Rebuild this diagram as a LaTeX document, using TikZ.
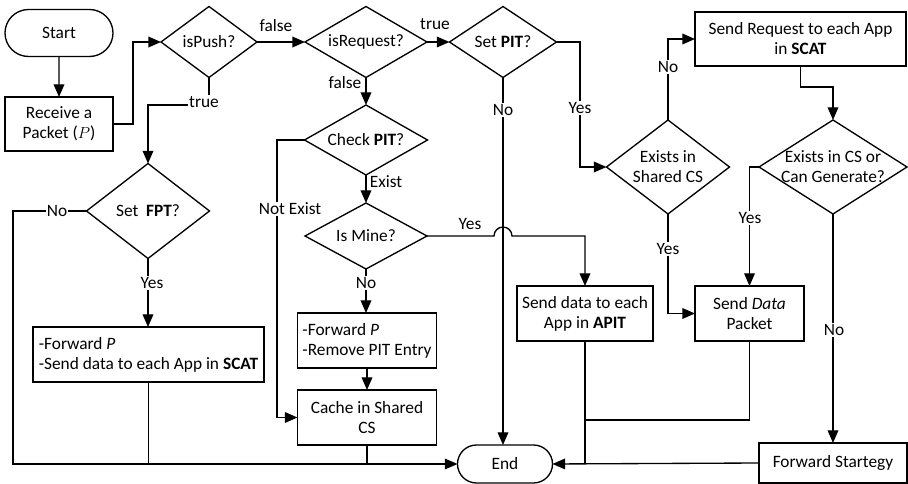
\documentclass[tikz,border=0pt]{standalone}
\usepackage{fontspec}
\setmainfont{Carlito}
\usetikzlibrary{shapes.geometric,shapes.misc,arrows.meta}

\begin{document}
\begin{tikzpicture}[x=0.75pt,y=-0.75pt,
  font=\fontsize{13}{15}\selectfont,
  every node/.style={inner sep=0pt,outer sep=0pt},
  line/.style={line width=1pt},
  flow/.style={line, -{Triangle[length=9.5pt,width=8pt]}},
  term/.style={draw,line width=1pt,rounded rectangle,align=center},
  proc/.style={draw,line width=1pt,rectangle,align=center},
  dec/.style={draw,line width=1pt,diamond},
  tag/.style={fill=white,inner sep=1pt},
  dtext/.style={align=center}
]
\useasboundingbox (0,0) rectangle (908,484);

% ---- nodes ----
\node[term,minimum width=108*0.75pt,minimum height=47*0.75pt] (start) at (59,33) {Start};
\node[proc,minimum width=108*0.75pt,minimum height=54*0.75pt] (recv) at (59,124) {Receive a\\Packet ($P$)};

\node[dec,minimum width=96*0.75pt,minimum height=71*0.75pt,label={[dtext]center:isPush?}] (push) at (209,42) {};
\node[dec,minimum width=122*0.75pt,minimum height=71*0.75pt,label={[dtext]center:isRequest?}] (req) at (366,42) {};
\node[dec,minimum width=107*0.75pt,minimum height=71*0.75pt,label={[dtext]center:Set \textbf{PIT}?}] (setpit) at (503,42) {};

\node[dec,minimum width=123*0.75pt,minimum height=95*0.75pt,label={[dtext]center:Set~~\textbf{FPT}?}] (fpt) at (148,211) {};
\node[proc,align=left,minimum width=231*0.75pt,minimum height=55*0.75pt] (scat) at (148.5,354.5) {-Forward \textit{P}\\-Send data to each App in \textbf{SCAT}};

\node[dec,minimum width=123*0.75pt,minimum height=70*0.75pt,label={[dtext]center:Check \textbf{PIT}?}] (chk) at (366,140) {};
\node[dec,minimum width=122*0.75pt,minimum height=66*0.75pt,label={[dtext]center:Is Mine?}] (mine) at (366,236) {};
\node[proc,align=left,minimum width=139*0.75pt,minimum height=55*0.75pt] (fwd) at (367,340.5) {-Forward \textit{P}\\-Remove PIT Entry};
\node[proc,minimum width=139*0.75pt,minimum height=55*0.75pt] (cache) at (367,417.5) {Cache in Shared\\CS};

\node[term,minimum width=95*0.75pt,minimum height=38*0.75pt] (end) at (505,464) {End};

\node[proc,minimum width=136*0.75pt,minimum height=55*0.75pt] (apit) at (585,313.5) {Send data to each\\App in \textbf{APIT}};

\node[dec,minimum width=123*0.75pt,minimum height=94*0.75pt,label={[dtext]center:Exists in\\Shared CS}] (shcs) at (668,167) {};
\node[proc,minimum width=211*0.75pt,minimum height=54*0.75pt] (sreq) at (800.5,39) {Send Request to each App\\in \textbf{SCAT}};
\node[dec,minimum width=148*0.75pt,minimum height=94*0.75pt,label={[dtext]center:Exists in CS or\\Can Generate?}] (cscan) at (833,167) {};
\node[proc,minimum width=109*0.75pt,minimum height=55*0.75pt] (dpk) at (749.5,313.5) {Send \textit{Data}\\Packet};
\node[proc,minimum width=148*0.75pt,minimum height=40*0.75pt] (fs) at (833,463) {Forward Startegy};

% ---- connectors ----
\draw[flow] (start) -- (recv);
\draw[flow] (recv.east) -- (133,124) |- (push.west);
\draw[flow] (push.east) -- (req.west);
\draw[flow] (req.east) -- (setpit.west);
\draw[flow] (push.south) -- (209,105) -| (fpt.north);
\draw[flow] (req.south) -- (chk.north);
\draw[flow] (chk.south) -- (mine.north);
\draw[flow] (chk.west) -- (277,140) |- (cache.west);
\draw[flow] (mine.south) -- (mine.south |- fwd.north);
\draw[flow] (fwd.south) -- (cache.north);
\draw[line] (cache.south) -- (cache.south |- end.west);
\draw[flow] (fpt.west) -- (13,211) |- (end.west);
\draw[flow] (fpt.south) -- (fpt.south |- scat.north);
\draw[line] (scat.south) -- (scat.south |- end.west);
\draw[flow] (setpit.south) -- (setpit.south |- end.north);
\draw[flow] (setpit.east) -- (580,42) |- (shcs.west);
\draw[flow] (mine.east) -- (494,236) arc[start angle=180,end angle=0,radius=6.75pt] -| (apit.north);
\draw[flow] (shcs.north) |- (sreq.west);
\draw[flow] (sreq.south) -- (800.5,87) -| (cscan.north);
\draw[flow] (cscan.west) -| (dpk.north);
\draw[flow] (shcs.south) |- (dpk.west);
\draw[flow] (cscan.south) -- (fs.north);
\draw[line] (apit.south) -- (585,464);
\draw[line] (dpk.south) |- (585,420);
\draw[flow] (fs.west) -- (end.east);

% ---- branch labels ----
\node (lpf) at (276,26) {false};
\node (lrt) at (435,24) {true};
\node[tag] (lpt) at (204,102) {true};
\node (lrf) at (345,83) {false};
\node (lce) at (386,182) {Exist};
\node[tag] (lcn) at (290,209) {Not Exist};
\node[tag] (lmn) at (366,283) {No};
\node (lmy) at (470,224) {Yes};
\node[tag] (lfn) at (57,211) {No};
\node[tag] (lfy) at (152,283) {Yes};
\node[tag] (lsn) at (503,110) {No};
\node[tag] (lsy) at (580,108) {Yes};
\node[tag] (lhn) at (668,67) {No};
\node[tag] (lhy) at (668,249) {Yes};
\node[tag] (lgy) at (750,218) {Yes};
\node[tag] (lgn) at (834,330) {No};
\end{tikzpicture}
\end{document}
